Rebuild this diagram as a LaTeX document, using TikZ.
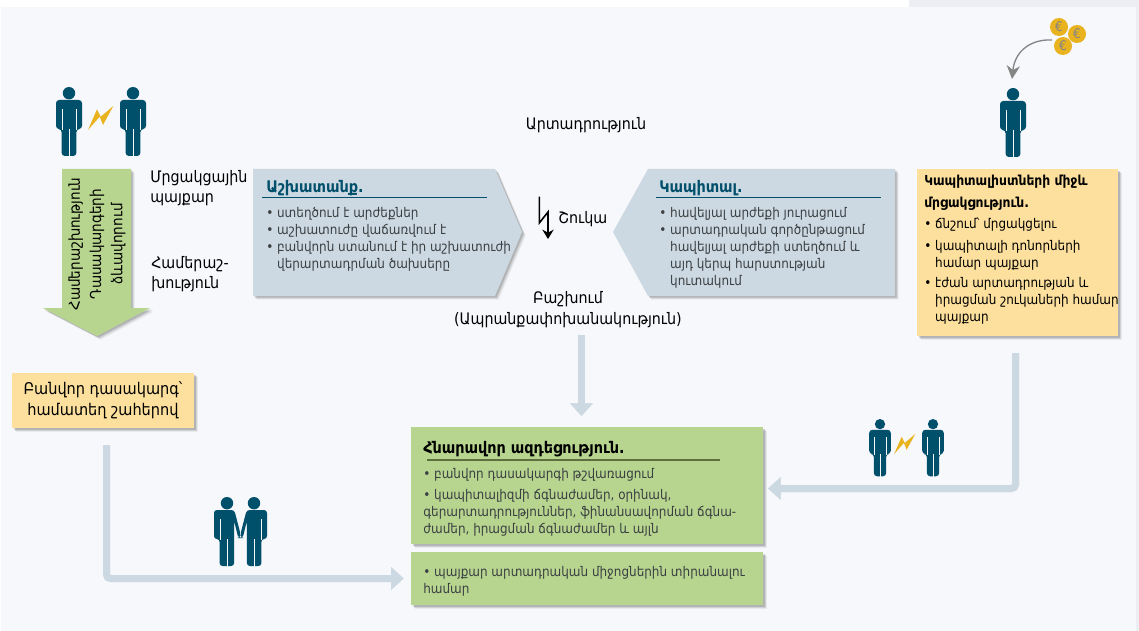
\documentclass[tikz,border=0pt]{standalone}
\usepackage{fontspec}
\setmainfont{DejaVu Sans Condensed}[BoldFont={DejaVu Sans Condensed Bold}]
\usetikzlibrary{arrows.meta,shadows,calc}
\definecolor{panel}{HTML}{F6F8FB}
\definecolor{outerbg}{HTML}{ECEEF4}
\definecolor{teal}{HTML}{004F6B}
\definecolor{boltc}{HTML}{E8B31E}
\definecolor{greenb}{HTML}{B7D58F}
\definecolor{yellowb}{HTML}{FDE09D}
\definecolor{blueb}{HTML}{CDD9E2}
\definecolor{bodytxt}{HTML}{3A3F42}
\definecolor{arrowgray}{HTML}{858585}
\definecolor{rulegreen}{HTML}{5C6F3F}
\tikzset{
  x=0.75pt,y=-0.75pt,
  softshadow/.style={
    general shadow={fill=black,opacity=.06,shadow xshift=2.8pt,shadow yshift=-2.8pt},
    general shadow={fill=black,opacity=.10,shadow xshift=2pt,shadow yshift=-2pt},
    general shadow={fill=black,opacity=.14,shadow xshift=1.2pt,shadow yshift=-1.2pt}},
  txtA/.style={font=\fontsize{10}{12.75}\selectfont,text=bodytxt,align=left,anchor=north west,inner sep=0pt},
  txtB/.style={font=\fontsize{11.9}{15}\selectfont,text=black,inner sep=0pt},
  ttl/.style={font=\fontsize{12}{13}\selectfont\bfseries,inner sep=0pt,anchor=west},
  conn/.style={draw=blueb,line width=5.25pt,rounded corners=3pt,-{Triangle[length=9.5pt,width=16.5pt]}},
  connsh/.style={draw=black,opacity=.12,line width=5.25pt,rounded corners=3pt,-{Triangle[length=9.5pt,width=16.5pt]},xshift=1.5pt,yshift=-1.5pt},
  coin/.style={circle,fill=boltc,minimum size=13.5pt,inner sep=0pt,text=arrowgray,font=\fontsize{10}{10}\selectfont},
  person/.pic={
    \fill[teal] (0,6.2) circle (6.2);
    \fill[teal,rounded corners=2.4] (-13,42) -- (-13,13) -- (13,13) -- (13,42) -- (7.4,42) -- (7.4,69) -- (-7.4,69) -- (-7.4,42) -- cycle;
    \draw[panel,line width=.3pt] (0,42) -- (0,69.5);
    \draw[panel,line width=.3pt] (-7.2,22) -- (-7.2,43);
    \draw[panel,line width=.3pt] (7.2,22) -- (7.2,43);
  },
  couple/.pic={
    \foreach \s in {-1,1}{
      \begin{scope}[xscale=\s]
      \fill[teal] (13.5,6.2) circle (6.2);
      \fill[teal,rounded corners=2.2] (26.5,42) -- (26.5,13) -- (6.2,13) -- (0.2,36) -- (0.2,41) -- (2.2,41) -- (6.4,24) -- (6.4,69) -- (20.9,69) -- (20.9,42) -- cycle;
      \draw[panel,line width=.3pt] (13.5,42) -- (13.5,69.5);
      \draw[panel,line width=.3pt] (20.7,22) -- (20.7,43);
      \end{scope}
    }
  },
  bolt/.pic={
    \fill[boltc] (12.3,-12) -- (2,7) -- (-1.3,-1.3) -- (-13,12) -- (-4,-8.7) -- (-0.3,-1.3) -- cycle;
  }
}
\begin{document}
\begin{tikzpicture}
\useasboundingbox (0,0) rectangle (1139,631);
\fill[white] (0,0) rectangle (1139,631);
\fill[outerbg] (909,0) rectangle (1139,631);
\fill[outerbg] (1136,0) rectangle (1139,631);
\fill[panel] (1,7) rectangle (1136,631);

% people and bolts
\pic at (69,87) {person};
\pic at (133,87) {person};
\pic at (101,118) {bolt};
\pic at (1013,88) {person};
\pic[scale=.83] at (880,419) {person};
\pic[scale=.83] at (933,419) {person};
\pic[scale=.83] at (905,444) {bolt};
\pic at (240.5,497) {couple};

% coins
\node[coin] (coinA) at (1059,27) {€};
\node[coin] (coinB) at (1077,34) {€};
\node[coin] (coinC) at (1063,46) {€};
\coordinate (coinOut) at (1052,40);
\coordinate (coinIn) at (1012,79);
\draw[arrowgray,line width=1pt,-{Stealth[length=10pt,width=10pt]}] (coinOut) .. controls (1032,39) and (1015,50) .. (coinIn);

% left green arrow
\fill[greenb,softshadow] (62,169) -- (131,169) -- (131,308) -- (150,308) -- (97,336) -- (43,308) -- (62,308) -- cycle;
\node[rotate=90,font=\fontsize{11.3}{16}\selectfont,align=center,inner sep=0pt,text=black] (solid) at (97,244) {Համերաշխություն\\Դասակարգերի\\ձևավորում};

% free labels
\node[txtB,anchor=west,align=left] (rivalry) at (150,188) {Մրցակցային\\պայքար};
\node[txtB,anchor=west,align=left] (solidarity) at (151,274) {Համերաշ-\\խություն};
\node[txtB] (prod) at (586,125.5) {Արտադրություն};
\node[txtB,align=center,font=\fontsize{11.9}{15.75}\selectfont] (distr) at (568,310) {Բաշխում\\(Ապրանքափոխանակություն)};
\node[txtB,anchor=west] (market) at (558,219) {Շուկա};
\coordinate (shA) at (539.3,196.7);
\coordinate (shB) at (539.3,223);
\coordinate (shC) at (548,212);
\coordinate (shD) at (548,239);
\draw[black,line width=1.2pt,-{Stealth[length=7pt,width=8.5pt]}] (shA) -- (shB) -- (shC) -- (shD);

% labour pentagon
\fill[blueb,softshadow] (253,169) -- (495,169) -- (522,232) -- (495,296) -- (253,296) -- cycle;
\node[ttl,text=teal] (labT) at (266,188.5) {Աշխատանք.};
\coordinate (labL) at (262,197.5);
\coordinate (labR) at (487,197.5);
\draw[teal,line width=.75pt] (labL) -- (labR);
\node[txtA] (labB) at (266,207) {\textbullet\ ստեղծում է արժեքներ\\\textbullet\ աշխատուժը վաճառվում է\\\textbullet\ բանվորն ստանում է իր աշխատուժի\\\phantom{\textbullet\ }վերարտադրման ծախսերը};

% capital pentagon
\fill[blueb,softshadow] (895,169) -- (648,169) -- (613,232) -- (648,296) -- (895,296) -- cycle;
\node[ttl,text=teal] (capT) at (659,188.5) {Կապիտալ.};
\coordinate (capL) at (656,197.5);
\coordinate (capR) at (881,197.5);
\draw[teal,line width=.75pt] (capL) -- (capR);
\node[txtA] (capB) at (659,207) {\textbullet\ հավելյալ արժեքի յուրացում\\\textbullet\ արտադրական գործընթացում\\\phantom{\textbullet\ }հավելյալ արժեքի ստեղծում և\\\phantom{\textbullet\ }այդ կերպ հարստության\\\phantom{\textbullet\ }կուտակում};

% right yellow box
\fill[yellowb,softshadow] (917,169) rectangle (1118,336);
\node[ttl,text=black,font=\fontsize{10.3}{13}\selectfont\bfseries] (compT1) at (924,182) {Կապիտալիստների միջև};
\node[ttl,text=black,font=\fontsize{10.3}{13}\selectfont\bfseries] (compT2) at (924,204) {մրցակցություն.};
\node[txtA,text=black] (compB1) at (924,218) {\textbullet\ ճնշում՝ մրցակցելու};
\node[txtA,text=black] (compB2) at (924,240) {\textbullet\ կապիտալի դոնորների\\\phantom{\textbullet\ }համար պայքար};
\node[txtA,text=black] (compB3) at (924,277) {\textbullet\ էժան արտադրության և\\\phantom{\textbullet\ }իրացման շուկաների համար\\\phantom{\textbullet\ }պայքար};

% left yellow box
\node[fill=yellowb,softshadow,minimum width=136.5pt,minimum height=41.25pt,inner sep=0pt,font=\fontsize{12.1}{15.7}\selectfont,align=center,text=black] (workers) at (103,400.5) {Բանվոր դասակարգ՝\\համատեղ շահերով};

% green boxes
\node[fill=greenb,softshadow,minimum width=264pt,minimum height=87.75pt,inner sep=0pt] (effect) at (587,485.5) {};
\node[fill=greenb,softshadow,minimum width=264pt,minimum height=39.75pt,inner sep=0pt] (fight) at (587,578.5) {};
\node[ttl,text=black] (effT) at (423,449) {Հնարավոր ազդեցություն.};
\coordinate (effL) at (427,460);
\coordinate (effR) at (720,460);
\draw[rulegreen,line width=.9pt] (effL) -- (effR);
\node[txtA] (effB1) at (423,468) {\textbullet\ բանվոր դասակարգի թշվառացում};
\node[txtA] (effB2) at (423,489) {\textbullet\ կապիտալիզմի ճգնաժամեր, օրինակ,\\գերարտադրություններ, ֆինանսավորման ճգնա-\\ժամեր, իրացման ճգնաժամեր և այլն};
\node[txtA] (figB) at (423,566) {\textbullet\ պայքար արտադրական միջոցներին տիրանալու\\համար};

% connectors
\coordinate (leftStart) at (106.5,445);
\coordinate (rightStart) at (1015.5,353);
\coordinate (effIn) at (763,488.5);
\coordinate (midStart) at (581.5,335);
\coordinate (midEnd) at (581.5,416);
\path[connsh,shorten >=5.25pt] (leftStart) |- (fight.west);
\path[conn,shorten >=5.25pt] (leftStart) |- (fight.west);
\path[connsh,shorten >=3.75pt] (rightStart) |- (effIn);
\path[conn,shorten >=3.75pt] (rightStart) |- (effIn);
\path[connsh] (midStart) -- (midEnd);
\path[conn] (midStart) -- (midEnd);
\end{tikzpicture}
\end{document}
